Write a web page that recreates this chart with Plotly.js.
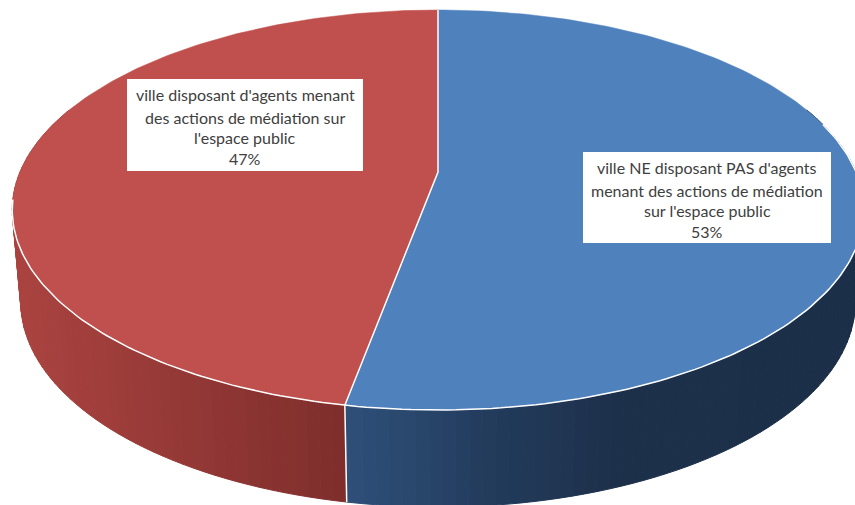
<!DOCTYPE html>
<html><head><meta charset="utf-8">
<script src="https://cdn.plot.ly/plotly-3.0.1.min.js"></script>
<style>html,body{margin:0;padding:0;background:#fff}#c{width:855px;height:505px}</style>
</head><body><div id="c"></div>
<script>
const categories = ["ville NE disposant PAS d'agents menant des actions de médiation sur l'espace public",
                    "ville disposant d'agents menant des actions de médiation sur l'espace public"];
const shares = [52.9, 47.1];
const percentLabels = ["53%", "47%"];
const labelLines = [
  ["ville NE disposant PAS d'agents", "menant des actions de médiation", "sur l'espace public"],
  ["ville disposant d'agents menant", "des actions de médiation sur", "l'espace public"]
];
const topColors = ["#4f81bd", "#c0504d"];
const sideStops = [
  [[345,[47,80,122]], [500,[34,58,90]], [620,[29,48,74]], [855,[28,47,72]]],
  [[10,[172,68,65]], [345,[126,46,44]]]
];
const labelBoxes = [[583,152,831,243],[127,79,363,171]];
const labelRows = [[167,190,210,231],[94,117,137,158]];

// perspective view of the pie disc
const CX=438, CY=172, B=418, A=192.8, K=0.19;
const BCX=0.98, BCY=1.025, EY=210, BY=302;
const pt = deg => {
  const r=deg*Math.PI/180, s=Math.sin(r), t=-Math.cos(r), w=1-K*t;
  return [CX+B*s/w, CY+A*t/w];
};
const low = p => [CX+(p[0]-CX)*BCX, BY+(p[1]-EY)*BCY];
const mix = (stops,x) => {
  if (x<=stops[0][0]) return stops[0][1];
  for (let i=1;i<stops.length;i++) if (x<=stops[i][0]) {
    const f=(x-stops[i-1][0])/(stops[i][0]-stops[i-1][0]);
    return stops[i-1][1].map((v,j)=>v+(stops[i][1][j]-v)*f);
  }
  return stops[stops.length-1][1];
};
const total = shares.reduce((a,b)=>a+b,0);
const traces=[];
const poly=(xy,fill,line,w)=>traces.push({type:'scatter',mode:'lines',x:xy.map(p=>p[0]),y:xy.map(p=>p[1]),
  fill:fill?'toself':'none',fillcolor:fill||undefined,line:{color:line,width:w},hoverinfo:'skip',showlegend:false});

let start=0; const ranges=shares.map(v=>{const a=start; start+=v/total*360; return [a,start];});
// sides
ranges.forEach((rg,i)=>{
  for(let a=Math.max(rg[0],70);a<Math.min(rg[1],290);a+=1.5){
    const b=Math.min(a+1.5,rg[1],290);
    const p=pt(a),q=pt(b),pl=low(p),ql=low(q);
    const c=mix(sideStops[i],(pl[0]+ql[0])/2).map(Math.round);
    const col=`rgb(${c})`;
    poly([p,q,ql,pl,p],col,col,1);
  }
});
// tops
ranges.forEach((rg,i)=>{
  const xy=[[CX,CY]];
  for(let a=rg[0];a<rg[1];a+=1) xy.push(pt(a));
  xy.push(pt(rg[1])); xy.push([CX,CY]);
  poly(xy,topColors[i],topColors[i],0.5);
});
// white separators
const rim=[]; for(let a=0;a<=360;a+=1) rim.push(pt(a));
poly([pt(0),[CX,CY],pt(ranges[0][1])],null,'#ffffff',1.5);
poly(rim.filter((_,d)=>d>=75&&d<=262),null,'#ffffff',1.5);
const sp=pt(ranges[0][1]); poly([sp,low(sp)],null,'#ffffff',1.5);

const shapes=labelBoxes.map(b=>({type:'rect',xref:'x',yref:'y',x0:b[0],y0:b[1],x1:b[2],y1:b[3],fillcolor:'#ffffff',line:{width:0},layer:'above'}));
const annotations=[];
labelLines.forEach((lines,i)=>{
  lines.concat([percentLabels[i]]).forEach((t,j)=>annotations.push({xref:'x',yref:'y',
    x:(labelBoxes[i][0]+labelBoxes[i][2])/2,y:labelRows[i][j],text:t,showarrow:false,
    font:{family:'Lato, "Open Sans", sans-serif',size:16,color:'#404040'},xanchor:'center',yanchor:'middle'}));
});
Plotly.newPlot('c',traces,{width:855,height:505,margin:{l:0,r:0,t:0,b:0},showlegend:false,
  paper_bgcolor:'#fff',plot_bgcolor:'#fff',
  xaxis:{range:[0,855],visible:false,fixedrange:true},
  yaxis:{range:[505,0],visible:false,fixedrange:true},
  shapes,annotations},{displayModeBar:false,staticPlot:true});
</script></body></html>
